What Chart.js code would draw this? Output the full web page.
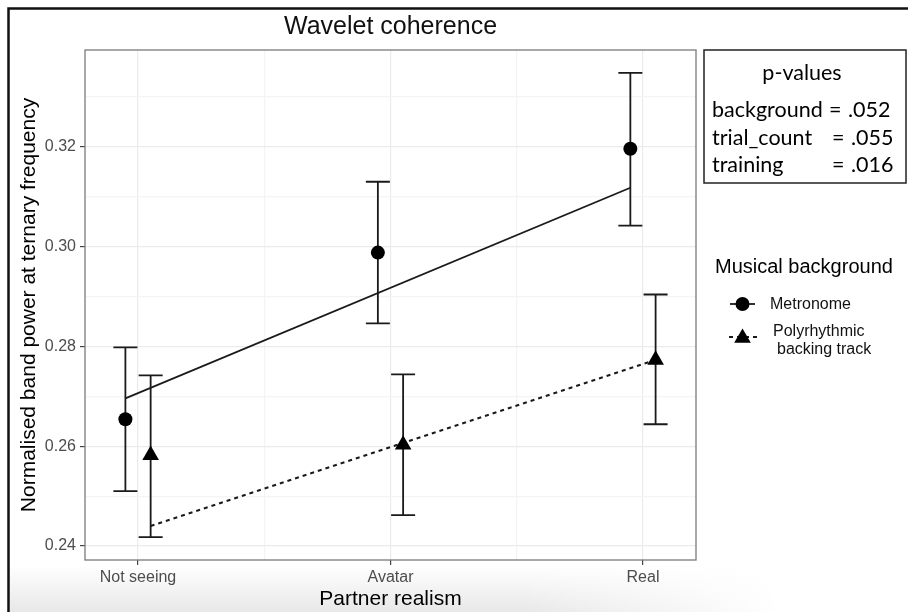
<!DOCTYPE html>
<html>
<head>
    <title>Wavelet coherence</title>
    <script src="https://cdn.jsdelivr.net/npm/chart.js"></script>
    <style>
        html, body {
            margin: 0;
            padding: 0;
            background-color: #ffffff;
        }
        #wrap {
            width: 908px;
            height: 612px;
        }
    </style>
</head>
<body>

<div id="wrap"><canvas id="cohChart" width="908" height="612"></canvas></div>

<script>
    // values
    const categories = ['Not seeing', 'Avatar', 'Real'];

    const metronomeMean = [0.2654, 0.2988, 0.3196];
    const metronomeLow  = [0.2510, 0.2846, 0.3042];
    const metronomeHigh = [0.2798, 0.3130, 0.3348];

    const polyMean = [0.2582, 0.2603, 0.2773];
    const polyLow  = [0.2418, 0.2462, 0.2644];
    const polyHigh = [0.2742, 0.2744, 0.2904];

    // fitted lines, value at first and last category
    const metronomeFit = [0.2696, 0.3118];
    const polyFit = [0.2440, 0.2773];

    const yTicks = [0.24, 0.26, 0.28, 0.30, 0.32];

    const pValueRows = [
        ['background', '.052'],
        ['trial_count', '.055'],
        ['training', '.016']
    ];

    const dodge = 0.05;
    const ink = '#1a1a1a';

    const isMajorY = v => yTicks.some(t => Math.abs(t - v) < 1e-6);
    const isMajorX = v => Math.abs(v - Math.round(v)) < 1e-6;

    const pointsOf = (vals, off) => vals.map((v, i) => ({ x: i + 1 + off, y: v }));
    const fitOf = (vals, off) => [
        { x: 1 + off, y: vals[0] },
        { x: categories.length + off, y: vals[1] }
    ];

    const background = {
        id: 'background',
        beforeDraw(chart) {
            const { ctx, width, height } = chart;
            ctx.save();
            ctx.fillStyle = '#ffffff';
            ctx.fillRect(0, 0, width, height);
            // soft grey shade along the bottom left
            const g = ctx.createLinearGradient(0, 565, 0, height);
            g.addColorStop(0, 'rgba(232,232,232,0)');
            g.addColorStop(1, 'rgba(232,232,232,1)');
            ctx.fillStyle = g;
            ctx.fillRect(10, 565, 780, height - 565);
            const h = ctx.createLinearGradient(520, 0, 780, 0);
            h.addColorStop(0, 'rgba(255,255,255,0)');
            h.addColorStop(1, 'rgba(255,255,255,1)');
            ctx.fillStyle = h;
            ctx.fillRect(520, 565, 270, height - 565);
            // outer frame
            ctx.strokeStyle = '#111111';
            ctx.lineWidth = 2.5;
            ctx.beginPath();
            ctx.moveTo(8.5, height);
            ctx.lineTo(8.5, 8.5);
            ctx.lineTo(width, 8.5);
            ctx.stroke();
            ctx.restore();
        }
    };

    const errorBars = {
        id: 'errorBars',
        beforeDatasetsDraw(chart) {
            const { ctx, scales: { x, y } } = chart;
            ctx.save();
            ctx.strokeStyle = ink;
            ctx.lineWidth = 1.8;
            [[metronomeLow, metronomeHigh, -dodge], [polyLow, polyHigh, dodge]].forEach(([lo, hi, off]) => {
                categories.forEach((c, i) => {
                    const px = x.getPixelForValue(i + 1 + off);
                    const top = y.getPixelForValue(hi[i]);
                    const bot = y.getPixelForValue(lo[i]);
                    ctx.beginPath();
                    ctx.moveTo(px, top);
                    ctx.lineTo(px, bot);
                    ctx.moveTo(px - 12, top);
                    ctx.lineTo(px + 12, top);
                    ctx.moveTo(px - 12, bot);
                    ctx.lineTo(px + 12, bot);
                    ctx.stroke();
                });
            });
            ctx.restore();
        }
    };

    function triangle(ctx, x, y, r) {
        ctx.beginPath();
        ctx.moveTo(x, y - r);
        ctx.lineTo(x + r * Math.sin(2 * Math.PI / 3), y - r * Math.cos(2 * Math.PI / 3));
        ctx.lineTo(x + r * Math.sin(4 * Math.PI / 3), y - r * Math.cos(4 * Math.PI / 3));
        ctx.closePath();
        ctx.fill();
    }

    const panelAndNotes = {
        id: 'panelAndNotes',
        afterDatasetsDraw(chart) {
            const { ctx, chartArea: a } = chart;
            ctx.save();
            ctx.strokeStyle = '#7a7a7a';
            ctx.lineWidth = 1.3;
            ctx.strokeRect(a.left, a.top, a.right - a.left, a.bottom - a.top);
            ctx.restore();
        },
        afterDraw(chart) {
            const { ctx } = chart;
            ctx.save();

            // p-values box
            ctx.strokeStyle = '#222222';
            ctx.lineWidth = 1.5;
            ctx.strokeRect(704, 50, 202, 133);
            ctx.fillStyle = '#000000';
            ctx.font = '21.5px Lato, "Open Sans", sans-serif';
            ctx.textBaseline = 'alphabetic';
            ctx.textAlign = 'center';
            ctx.fillText('p-values', 802, 80);
            ctx.textAlign = 'left';
            pValueRows.forEach(([name, val], i) => {
                const yy = 117 + i * 27.5;
                ctx.fillText(name, 712, yy);
                ctx.fillText('=', i === 0 ? 829 : 832, yy);
                ctx.fillText(val, i === 0 ? 848 : 851, yy);
            });

            // legend
            ctx.textBaseline = 'middle';
            ctx.font = '20px "Liberation Sans", Arial, sans-serif';
            ctx.fillText('Musical background', 715, 267);

            ctx.strokeStyle = ink;
            ctx.fillStyle = '#000000';
            ctx.lineWidth = 1.8;
            ctx.beginPath();
            ctx.moveTo(730, 304);
            ctx.lineTo(755, 304);
            ctx.stroke();
            ctx.beginPath();
            ctx.arc(742.5, 304, 7, 0, Math.PI * 2);
            ctx.fill();

            ctx.setLineDash([4, 4]);
            ctx.beginPath();
            ctx.moveTo(729, 337);
            ctx.lineTo(757, 337);
            ctx.stroke();
            ctx.setLineDash([]);
            triangle(ctx, 742.5, 338, 9.6);

            ctx.font = '16px "Liberation Sans", Arial, sans-serif';
            ctx.fillStyle = '#111111';
            ctx.fillText('Metronome', 770, 305);
            ctx.fillText('Polyrhythmic', 773, 332);
            ctx.fillText('backing track', 777, 350);

            ctx.restore();
        }
    };

    Chart.defaults.font.family = '"Liberation Sans", Arial, sans-serif';

    const ctx = document.getElementById('cohChart').getContext('2d');

    new Chart(ctx, {
        type: 'scatter',
        data: {
            datasets: [
                {
                    label: 'Metronome',
                    data: pointsOf(metronomeMean, -dodge),
                    pointStyle: 'circle',
                    pointRadius: 7,
                    pointBorderWidth: 0,
                    backgroundColor: '#000000',
                    borderColor: '#000000',
                    showLine: false
                },
                {
                    label: 'Polyrhythmic backing track',
                    data: pointsOf(polyMean, dodge),
                    pointStyle: 'triangle',
                    pointRadius: 9.6,
                    pointBorderWidth: 0,
                    backgroundColor: '#000000',
                    borderColor: '#000000',
                    showLine: false
                },
                {
                    label: 'Metronome fit',
                    data: fitOf(metronomeFit, -dodge),
                    showLine: true,
                    pointRadius: 0,
                    borderColor: ink,
                    borderWidth: 1.8,
                    fill: false
                },
                {
                    label: 'Polyrhythmic fit',
                    data: fitOf(polyFit, dodge),
                    showLine: true,
                    pointRadius: 0,
                    borderColor: ink,
                    borderWidth: 2,
                    borderDash: [4, 4],
                    fill: false
                }
            ]
        },
        options: {
            responsive: false,
            animation: false,
            devicePixelRatio: 1,
            layout: {
                padding: { left: 10, right: 212, top: 0, bottom: 0 }
            },
            plugins: {
                legend: { display: false },
                tooltip: { enabled: false },
                title: {
                    display: true,
                    text: 'Wavelet coherence',
                    fullSize: false,
                    color: '#111111',
                    font: { size: 25, weight: 'normal' },
                    padding: { top: 12, bottom: 8 }
                }
            },
            scales: {
                x: {
                    type: 'linear',
                    min: 0.79,
                    max: 3.21,
                    afterFit: s => { s.height = 52; },
                    border: { display: false },
                    grid: {
                        color: c => isMajorX(c.tick.value) ? '#ebebeb' : '#f4f4f4',
                        tickColor: c => isMajorX(c.tick.value) ? '#444444' : 'rgba(0,0,0,0)',
                        tickLength: 5,
                        lineWidth: 1.2
                    },
                    ticks: {
                        stepSize: 0.5,
                        includeBounds: false,
                        autoSkip: false,
                        maxRotation: 0,
                        padding: 3,
                        color: '#4d4d4d',
                        font: { size: 16 },
                        callback: v => isMajorX(v) ? categories[Math.round(v) - 1] : ''
                    },
                    title: {
                        display: true,
                        text: 'Partner realism',
                        color: '#000000',
                        font: { size: 21 },
                        padding: { top: 0, bottom: 0 }
                    }
                },
                y: {
                    min: 0.2372,
                    max: 0.3394,
                    afterFit: s => { s.width = 75; },
                    border: { display: false },
                    grid: {
                        color: c => isMajorY(c.tick.value) ? '#ebebeb' : '#f4f4f4',
                        tickColor: c => isMajorY(c.tick.value) ? '#444444' : 'rgba(0,0,0,0)',
                        tickLength: 5,
                        lineWidth: 1.2
                    },
                    ticks: {
                        stepSize: 0.01,
                        includeBounds: false,
                        autoSkip: false,
                        padding: 4,
                        color: '#4d4d4d',
                        font: { size: 16 },
                        callback: v => isMajorY(v) ? v.toFixed(2) : ''
                    },
                    title: {
                        display: true,
                        text: 'Normalised band power at ternary frequency',
                        color: '#000000',
                        font: { size: 21 },
                        padding: { top: 7, bottom: 0 }
                    }
                }
            }
        },
        plugins: [background, errorBars, panelAndNotes]
    });
</script>
</body>
</html>
